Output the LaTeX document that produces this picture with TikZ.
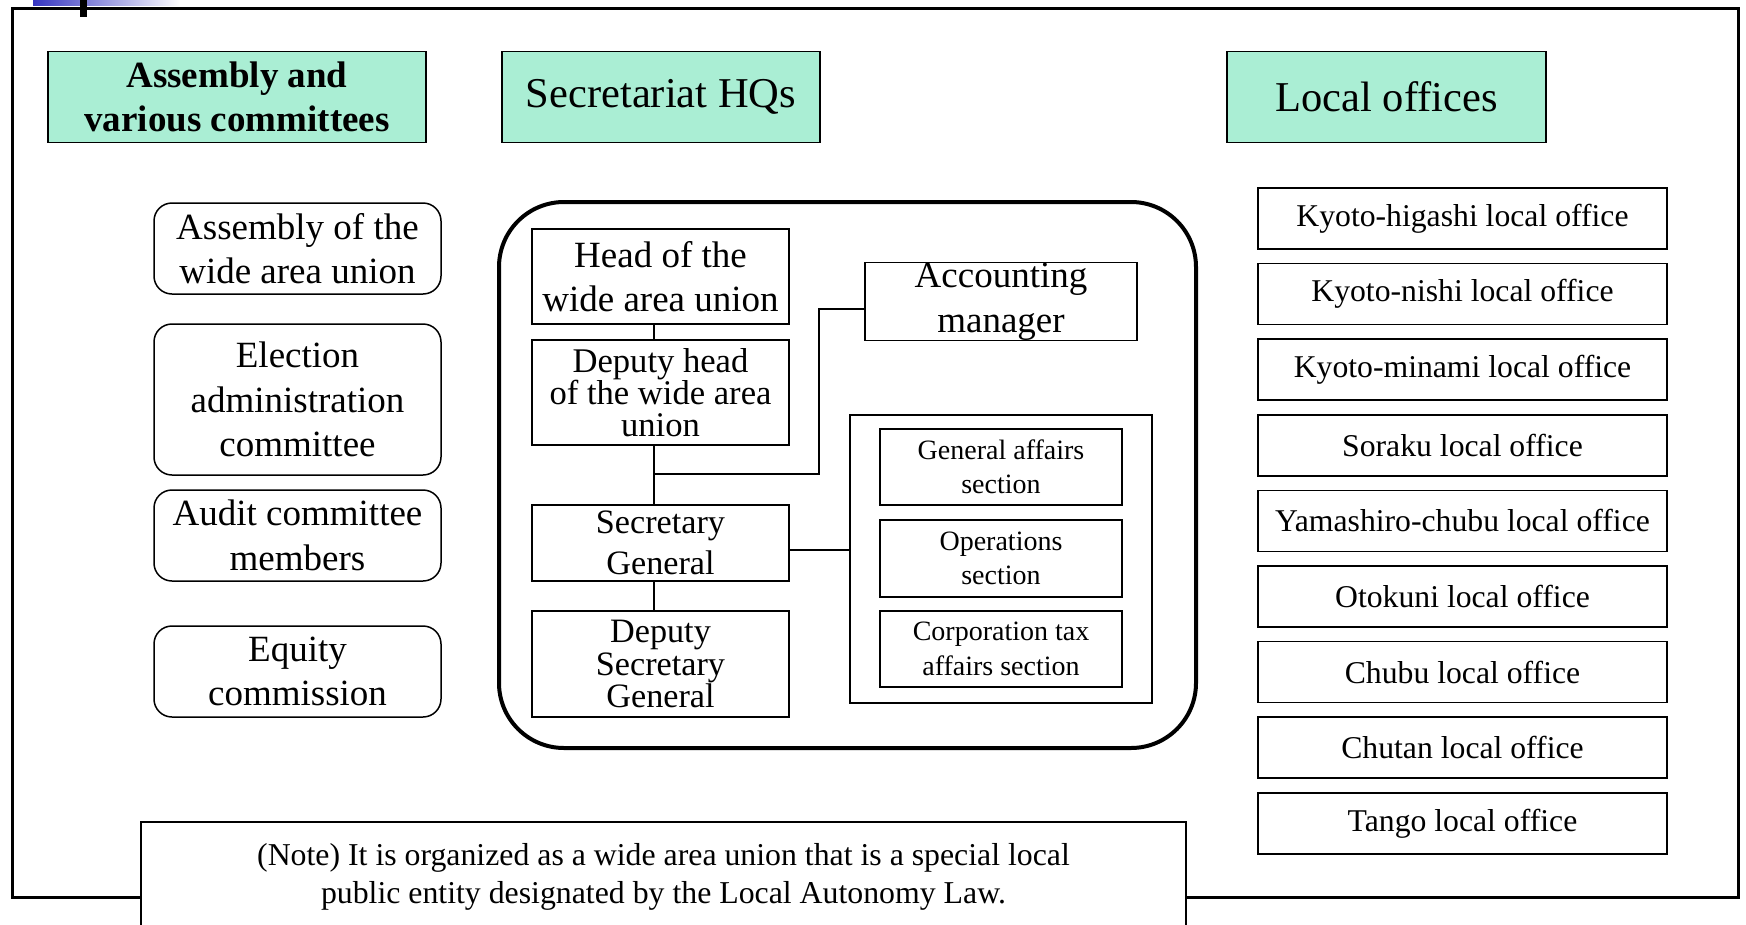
\documentclass[tikz,border=0pt]{standalone}
\usepackage{fontspec}
\setmainfont{Liberation Serif}
\usepackage{tikz}
\usetikzlibrary{calc}
\definecolor{headColor}{HTML}{AAEED4}
\definecolor{barBlue}{HTML}{3535C0}
\tikzstyle{headbox}=[rectangle, draw=black, fill=headColor, line width=1.5pt, minimum height=91pt, inner sep=0pt, align=center]
\tikzstyle{committee}=[rectangle, rounded corners=18pt, draw=black, fill=white, line width=1.5pt, minimum width=287pt, inner sep=0pt, align=center, font=\fontsize{37}{44.5}\selectfont]
\tikzstyle{post}=[rectangle, draw=black, line width=1.5pt, minimum width=257pt, inner sep=0pt, align=center]
\tikzstyle{section}=[rectangle, draw=black, line width=1.5pt, minimum width=242pt, minimum height=76pt, inner sep=0pt, align=center, font=\fontsize{28}{34.5}\selectfont]
\tikzstyle{office}=[rectangle, draw=black, line width=1.5pt, minimum width=409pt, minimum height=61pt, inner sep=0pt, align=center, font=\fontsize{31.7}{38}\selectfont]
\tikzset{
	link/.style={
		line width=2pt
	}
}

\begin{document}
\begin{tikzpicture}[x=1pt,y=-1pt]
	\useasboundingbox (0,0) rectangle (1746,924);
	\clip (0,0) rectangle (1746,924);
	
	% frame of the slide
	\shade[left color=barBlue, right color=white] (33,0) rectangle (180,5);
	\draw[line width=3pt] (12,8) rectangle (1738,897);
	\fill (80,0) rectangle (87,17);
	
	\node(AssemblyHead)[headbox, minimum width=378pt, font=\bfseries\fontsize{37}{44.5}\selectfont] at (237,97) {Assembly and\\various committees};
	\node(SecretariatHead)[headbox, minimum width=318pt, font=\fontsize{42.5}{50}\selectfont] at (661,97) {Secretariat HQs};
	\node(LocalHead)[headbox, minimum width=319pt, font=\fontsize{42.5}{50}\selectfont] at (1386.5,97) {Local offices};
	
	
	\node(Assembly)[committee, minimum height=91pt] at (297.5,248.5) {Assembly of the\\wide area union};
	\node(Election)[committee, minimum height=151pt] at (297.5,399.5) {Election\\administration\\committee};
	\node(Audit)[committee, minimum height=91pt] at (297.5,535.5) {Audit committee\\members};
	\node(Equity)[committee, minimum height=91pt] at (297.5,671.5) {Equity\\commission};
	
	
	\draw[line width=4pt, rounded corners=65pt] (499,202) rectangle (1196,748);
	
	\node(Head)[post, minimum height=95pt, font=\fontsize{37}{44.5}\selectfont] at (660.5,276.5) {Head of the\\wide area union};
	\node(DeputyHead)[post, minimum height=105pt, font=\fontsize{34.6}{32}\selectfont] at (660.5,392.5) {Deputy head\\of the wide area\\union};
	\node(SecGeneral)[post, minimum height=76pt, font=\fontsize{34.2}{41}\selectfont] at (660.5,543) {Secretary\\General};
	\node(DeputySecGeneral)[post, minimum height=106pt, font=\fontsize{34.2}{32.3}\selectfont] at (660.5,664) {Deputy\\Secretary\\General};
	
	\node(Accounting)[post, minimum width=272pt, minimum height=75pt, font=\fontsize{37}{45.5}\selectfont] at (1001,301.5) {Accounting\\manager};
	
	\node(SectionGroup)[rectangle, draw=black, line width=1.5pt, minimum width=302pt, minimum height=288pt] at (1001,559) {};
	\node(GeneralAffairs)[section] at (1001,467) {General affairs\\section};
	\node(Operations)[section, minimum height=77pt] at (1001,558.5) {Operations\\section};
	\node(CorporationTax)[section] at (1001,649) {Corporation tax\\affairs section};
	
	\coordinate(Junction) at (654,474);
	
	\draw [link] ([xshift=-6.5pt]Head.south) -- ([xshift=-6.5pt]DeputyHead.north);
	\draw [link] ([xshift=-6.5pt]DeputyHead.south) -- ([xshift=-6.5pt]SecGeneral.north);
	\draw [link] ([xshift=-6.5pt]SecGeneral.south) -- ([xshift=-6.5pt]DeputySecGeneral.north);
	\draw [link] (Junction) -| ([xshift=-45pt,yshift=-7pt]Accounting.west) -- ([yshift=-7pt]Accounting.west);
	\draw [link] ([yshift=-6.5pt]SecGeneral.east) -- ([yshift=-6.5pt]SecGeneral.east -| SectionGroup.west);
	
	
	\node(Higashi)[office] at (1462.5,218.5) {Kyoto-higashi local office};
	\node(Nishi)[office, below of=Higashi, node distance=75.6pt] {Kyoto-nishi local office};
	\node(Minami)[office, below of=Nishi, node distance=75.6pt] {Kyoto-minami local office};
	\node(Soraku)[office, below of=Minami, node distance=75.6pt] {Soraku local office};
	\node(Yamashiro)[office, below of=Soraku, node distance=75.6pt] {Yamashiro-chubu local office};
	\node(Otokuni)[office, below of=Yamashiro, node distance=75.6pt] {Otokuni local office};
	\node(Chubu)[office, below of=Otokuni, node distance=75.6pt] {Chubu local office};
	\node(Chutan)[office, below of=Chubu, node distance=75.6pt] {Chutan local office};
	\node(Tango)[office, below of=Chutan, node distance=75.6pt] {Tango local office};
	
	
	\node(Note)[rectangle, draw=black, fill=white, line width=1.5pt, minimum width=1045pt, minimum height=110pt, inner sep=0pt, align=center, font=\fontsize{31.8}{38}\selectfont] at (663.5,877) {(Note) It is organized as a wide area union that is a special local\\public entity designated by the Local Autonomy Law.};
\end{tikzpicture}
\end{document}
